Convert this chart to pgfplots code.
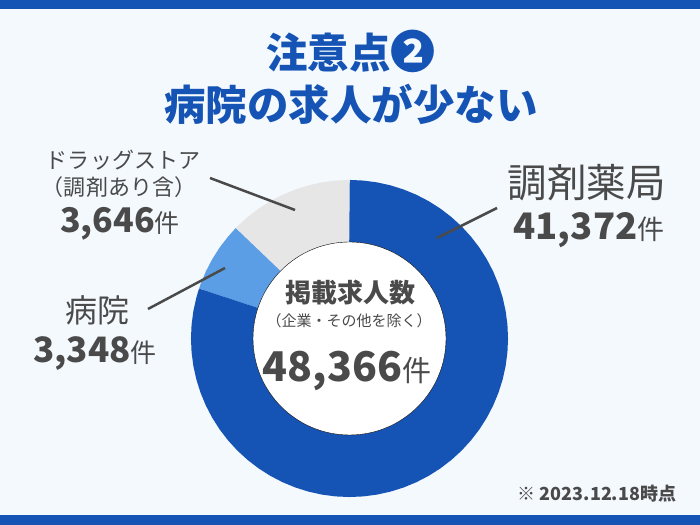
\documentclass[border=0pt]{standalone}
\usepackage{fontspec}
\setmainfont{Noto Sans CJK JP}
\usepackage{pgfplots}
\pgfplotsset{compat=1.18}
\usepgfplotslibrary{polar}

\definecolor{bg}{HTML}{F4F9FE}
\definecolor{navy}{HTML}{1554B4}
\definecolor{lblue}{HTML}{5C9EE6}
\definecolor{lgrey}{HTML}{E6E6E6}
\definecolor{txt}{HTML}{4A4A4A}

% size in px (1bp = 1px in the output)
\newcommand\fs[1]{\fontsize{#1bp}{#1bp}\selectfont}

\begin{document}
\begin{tikzpicture}[x=1bp, y=1bp]
% background and bars
\fill[bg] (0,0) rectangle (700,525);
\fill[navy] (0,516) rectangle (700,525);
\fill[navy] (0,0) rectangle (700,10);

% donut: slices drawn as thick arcs on the middle radius
% shares as drawn: 調剤薬局 80.1%, 病院 7.2%, ドラッグストア 12.7% (start at top, clockwise)
\begin{polaraxis}[
    at={(349.5,186.5)}, anchor=center,
    width=317bp, height=317bp, scale only axis,
    ymin=0, ymax=158.5,
    hide axis, clip=false,
]
% ドラッグストア 90..135.8
\addplot[lgrey, line width=62bp, line cap=butt, mark=none] coordinates {
    (90,127.5) (90.5,127.5) (95,127.5) (100,127.5) (105,127.5) (110,127.5)
    (115,127.5) (120,127.5) (125,127.5) (130,127.5) (135,127.5) (135.8,127.5)
};
% 病院 135.8..161.6
\addplot[lblue, line width=62bp, line cap=butt, mark=none] coordinates {
    (135.8,127.5) (136.3,127.5) (140,127.5) (145,127.5) (150,127.5)
    (155,127.5) (160,127.5) (161.1,127.5) (161.6,127.5)
};
% 調剤薬局 161.6..450
\addplot[navy, line width=62bp, line cap=butt, mark=none] coordinates {
    (161.6,127.5) (162.1,127.5) (165,127.5) (170,127.5) (175,127.5) (180,127.5)
    (185,127.5) (190,127.5) (195,127.5) (200,127.5) (205,127.5) (210,127.5)
    (215,127.5) (220,127.5) (225,127.5) (230,127.5) (235,127.5) (240,127.5)
    (245,127.5) (250,127.5) (255,127.5) (260,127.5) (265,127.5) (270,127.5)
    (275,127.5) (280,127.5) (285,127.5) (290,127.5) (295,127.5) (300,127.5)
    (305,127.5) (310,127.5) (315,127.5) (320,127.5) (325,127.5) (330,127.5)
    (335,127.5) (340,127.5) (345,127.5) (350,127.5) (355,127.5) (360,127.5)
    (365,127.5) (370,127.5) (375,127.5) (380,127.5) (385,127.5) (390,127.5)
    (395,127.5) (400,127.5) (405,127.5) (410,127.5) (415,127.5) (420,127.5)
    (425,127.5) (430,127.5) (435,127.5) (440,127.5) (445,127.5) (449.5,127.5)
    (450,127.5)
};
% white centre
\addplot[only marks, mark=*, mark size=96.5bp, mark options={draw=none, fill=white}]
    coordinates {(0,0)};
\end{polaraxis}

% leader lines
\draw[txt, line width=2.5bp] (437,287) -- (497,317);
\draw[txt, line width=2.5bp] (210,347) -- (295,315);
\draw[txt, line width=2.5bp] (148,216) -- (225,257);

% title
\node[navy] at (351,474) {\bfseries\fs{41.5}注意点\fs{45}❷};
\node[navy] at (351,421) {\bfseries\fs{41.5}病院の求人が少ない};

% labels
\node[txt] at (586.5,342.5) {\fs{39.5}調剤薬局};
\node[txt, anchor=base] at (589,285) {\fs{36.5}\bfseries 41,372\mdseries\fs{27}件};

\node[txt] at (123,365) {\fs{22}ドラッグストア};
\node[txt] at (119,338) {\fs{22}（調剤あり含）};
\node[txt, anchor=base] at (120,292) {\fs{34}\bfseries 3,646\mdseries\fs{25}件};

\node[txt] at (97,215) {\fs{32}病院};
\node[txt, anchor=base] at (95,162) {\fs{35}\bfseries 3,348\mdseries\fs{26}件};

\node[txt] at (350,232) {\fs{26}\bfseries 掲載求人数};
\node[txt] at (349,204) {\fs{15}（企業・その他を除く）};
\node[txt, anchor=base] at (347,143) {\fs{41}\bfseries 48,366\mdseries\fs{29}件};

\node[txt, anchor=base] at (597,24) {\fs{18}\bfseries ※ 2023.12.18時点};

\pgfresetboundingbox
\path (0,0) rectangle (700,525);
\end{tikzpicture}
\end{document}
